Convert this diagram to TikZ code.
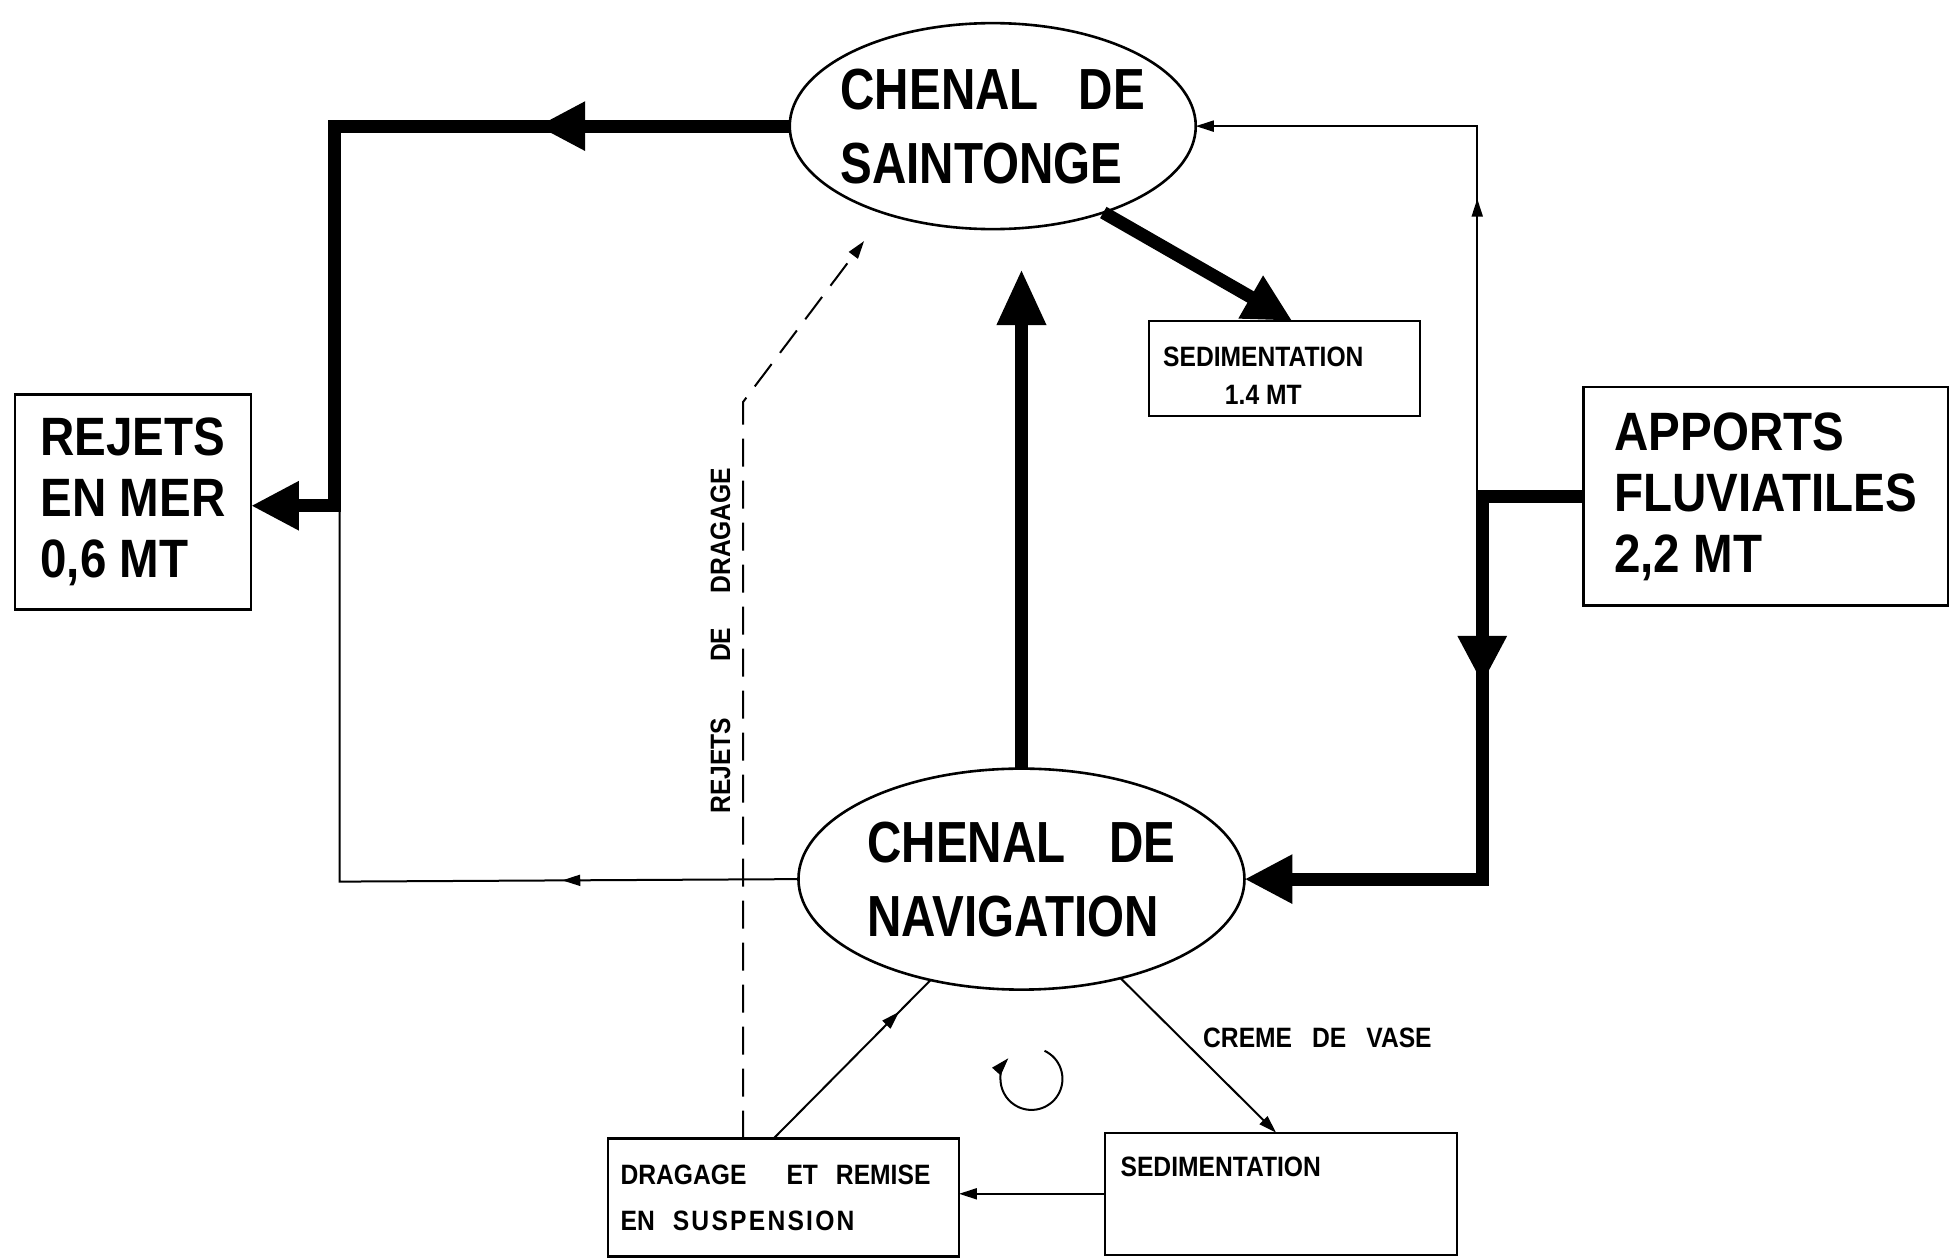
\documentclass[tikz,border=0pt]{standalone}
\usepackage{fontspec}
\setmainfont{Liberation Sans}
\newfontfamily\condfont[FakeStretch=0.88]{Liberation Sans}
\newfontfamily\ellfont[FakeStretch=0.82]{Liberation Sans}
\usetikzlibrary{arrows.meta,shapes.geometric,decorations.markings}
\tikzset{
  bigtip/.tip={Triangle[length=24pt,width=23pt]},
  uptip/.tip={Triangle[length=28pt,width=23pt]},
  smalltip/.tip={Triangle[length=9pt,width=5.5pt]},
  heavy/.style={line width=6.5pt},
  fine/.style={line width=1pt},
  box/.style={draw, line width=1.2pt, rectangle, inner sep=0pt, outer sep=0pt},
  oval/.style={draw, ellipse, line width=1.3pt, inner sep=0pt, outer sep=0pt},
  bigtxt/.style={font=\condfont\bfseries\fontsize{27}{30.5}\selectfont, align=left},
  elltxt/.style={font=\ellfont\bfseries\fontsize{29}{37}\selectfont, align=left},
  smalltxt/.style={font=\condfont\bfseries\fontsize{14}{19}\selectfont},
  midarrow/.style 2 args={postaction={decorate, decoration={markings, mark=at position #1 with {\arrow{#2}}}}},
}
\begin{document}
\begin{tikzpicture}[x=0.62435pt, y=-0.62435pt]
\fill[white] (0,0) rectangle (1568,1009);
\useasboundingbox (0,0) rectangle (1568,1009);

% nodes
\node[oval, minimum width=203pt, minimum height=103pt] (sai) at (795,101) {};
\node[elltxt] (sait) at (sai.center) {CHENAL\hspace{20pt}DE\\SAINTONGE};
\node[oval, minimum width=223pt, minimum height=110.5pt] (nav) at (818,704) {};
\node[elltxt] (navt) at (nav.center) {CHENAL\hspace{22pt}DE\\NAVIGATION};

\node[box, minimum width=118pt, minimum height=107.4pt, bigtxt] (rej) at (106.5,402) {REJETS\\EN MER\\0,6 MT};
\node[box, minimum width=182.3pt, minimum height=109.3pt, bigtxt] (app) at (1414,397.5) {APPORTS\\FLUVIATILES\\2,2 MT};
\node[box, minimum width=135.5pt, minimum height=47.5pt] (sed1) at (1028.5,295) {};
\node[smalltxt, align=center] (sed1t) at ([xshift=-10.5pt,yshift=-3.5pt]sed1.center) {SEDIMENTATION\\1.4 MT};
\node[box, minimum width=175.4pt, minimum height=59pt, smalltxt, font=\condfont\bfseries\fontsize{14}{23}\selectfont, align=left, text width=163pt] (drag) at (627.5,959) {DRAGAGE\hspace{20pt}ET\hspace{9pt}REMISE\\EN\hspace{9pt}{\addfontfeature{LetterSpace=8}SUSPENSION}};
\node[box, minimum width=176pt, minimum height=61pt] (sed2) at (1026,956) {};
\node[smalltxt, inner sep=0pt, anchor=north west] (sed2t) at ([xshift=7.5pt,yshift=-12pt]sed2.north west) {SEDIMENTATION};

\node[smalltxt, rotate=90] (rdd) at (577,513) {REJETS\hspace{28pt}DE\hspace{17pt}DRAGAGE};
\node[smalltxt] (cdv) at (1055,831) {CREME\hspace{10pt}DE\hspace{10pt}VASE};

% coordinates
\coordinate (k1) at (268,101);
\coordinate (k2) at (268,405);
\coordinate (k3) at (272,706);
\coordinate (k4) at (272,405);
\coordinate (k6) at (1187,397.5);
\coordinate (k7) at (1183,393);
\coordinate (k8) at (595,322);
\coordinate (k9) at (692,193);
\coordinate (rot) at (826,864);

% thick connectors
\draw[heavy, -{bigtip}, midarrow={0.275}{bigtip}] (sai.west) -- (k1) -- (k2) -- (k2 -| rej.east);
\draw[heavy, -{uptip}, shorten >=20pt] (nav.north) -- (nav.north |- sai.south);
\draw[heavy, -{bigtip}] (sai.-38) -- ([xshift=4pt]sed1.north);
\draw[heavy, -{bigtip}, midarrow={0.40}{bigtip}] (app.west) -- (k6) |- (nav.east);

% thin connectors
\draw[fine, midarrow={0.283}{smalltip}] (nav.west) -- (k3) -- (k4);
\draw[fine, -{smalltip}, midarrow={0.452}{smalltip}] (k7) |- (sai.east);
\draw[fine, dash pattern=on 14pt off 7pt, -{smalltip}] (drag.north -| k8) -- (k8) -- (k9);
\draw[fine, midarrow={0.8}{smalltip}] ([xshift=-5pt]drag.north) -- (nav.-132);
\draw[fine, -{smalltip}] (nav.-45) -- ([xshift=-2.5pt]sed2.north);
\draw[fine, -{smalltip}] (sed2.west) -- (sed2.west -| drag.east);

% rotation symbol
\draw[fine, -{smalltip}] ([shift={(65:15.5pt)}]rot) arc[start angle=65, end angle=-222, radius=15.5pt];
\end{tikzpicture}
\end{document}
